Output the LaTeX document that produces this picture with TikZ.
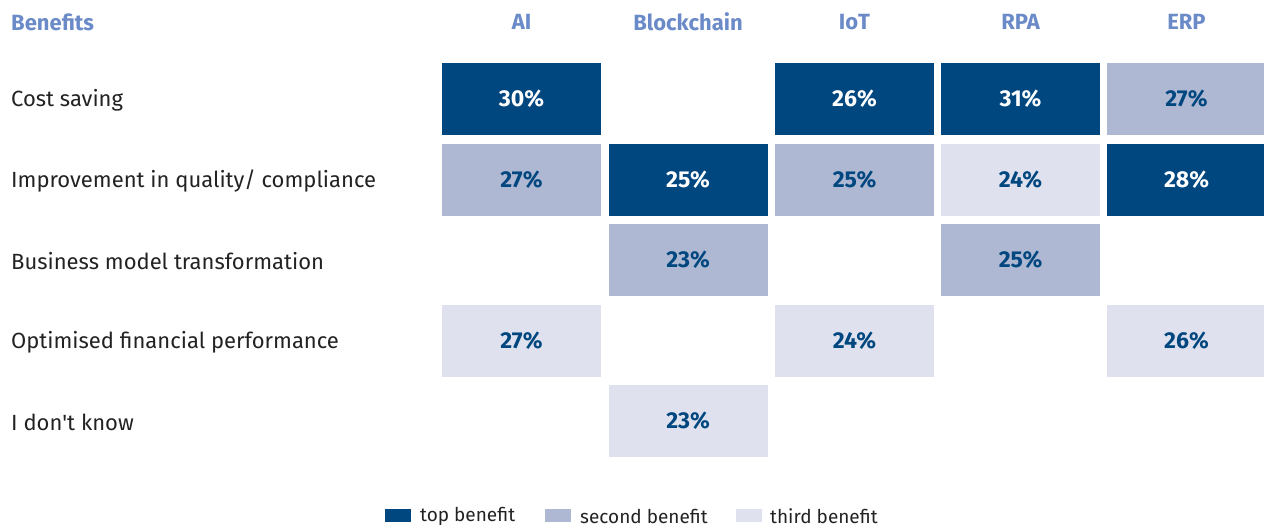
\documentclass[tikz,border=0pt]{standalone}
\usepackage{fontspec}
\setmainfont{Fira Sans}
\newfontfamily\firaplain{Fira Sans}
\definecolor{topc}{HTML}{00467F}
\definecolor{secc}{HTML}{AEB8D2}
\definecolor{thic}{HTML}{DFE2EE}
\definecolor{headc}{HTML}{6A8AC8}
\definecolor{labc}{HTML}{222222}
\tikzset{
  cell/.style={minimum width=159pt, minimum height=72pt, inner sep=0pt, font=\fontsize{23}{23}\selectfont\bfseries},
  topcell/.style={cell, fill=topc, text=white},
  seccell/.style={cell, fill=secc, text=topc},
  thicell/.style={cell, fill=thic, text=topc},
  head/.style={font=\fontsize{22}{22}\selectfont\bfseries, text=headc, inner sep=0pt},
  rowlab/.style={font=\fontsize{22}{22}\selectfont, text=labc, anchor=west, inner sep=0pt},
  legbox/.style={minimum width=26pt, minimum height=13pt, inner sep=0pt, anchor=west},
  legtext/.style={font=\fontsize{19}{19}\selectfont, text=labc, anchor=west, inner sep=0pt}
}
\begin{document}
\begin{tikzpicture}[x=1pt,y=-1pt]
\useasboundingbox (0,0) rectangle (1264,527);
% headers
\node[head, anchor=west] (hb) at (11,22) {Benefits};
\node[head] (hai) at (521.5,22) {AI};
\node[head] (hbc) at (688,22) {Blockchain};
\node[head] (hiot) at (854.5,22) {IoT};
\node[head] (hrpa) at (1020.5,22) {RPA};
\node[head] (herp) at (1186.5,22) {ERP};
% row labels
\node[rowlab] (r1) at (11,100) {Cost saving};
\node[rowlab] (r2) at (11,181) {Improvement in quality/ compliance};
\node[rowlab] (r3) at (11,261) {Business model transformation};
\node[rowlab] (r4) at (11,342) {Optimised financial performance};
\node[rowlab] (r5) at (11,422) {I don{\firaplain '}t know};
% row 1
\node[topcell] (c11) at (521.5,99) {30\%};
\node[topcell] (c13) at (854.5,99) {26\%};
\node[topcell] (c14) at (1020.5,99) {31\%};
\node[seccell] (c15) at (1186.5,99) {27\%};
% row 2
\node[seccell] (c21) at (521.5,180) {27\%};
\node[topcell] (c22) at (688,180) {25\%};
\node[seccell] (c23) at (854.5,180) {25\%};
\node[thicell] (c24) at (1020.5,180) {24\%};
\node[topcell] (c25) at (1186.5,180) {28\%};
% row 3
\node[seccell] (c32) at (688,260) {23\%};
\node[seccell] (c34) at (1020.5,260) {25\%};
% row 4
\node[thicell] (c41) at (521.5,341) {27\%};
\node[thicell] (c43) at (854.5,341) {24\%};
\node[thicell] (c45) at (1186.5,341) {26\%};
% row 5
\node[thicell] (c52) at (688,421) {23\%};
% legend
\node[legbox, fill=topc] (l1) at (385,515.5) {};
\node[legtext] (t1) at (420,516) {top benefit};
\node[legbox, fill=secc] (l2) at (545,515.5) {};
\node[legtext] (t2) at (580,516) {second benefit};
\node[legbox, fill=thic] (l3) at (736,515.5) {};
\node[legtext] (t3) at (770,516) {third benefit};
\end{tikzpicture}
\end{document}
